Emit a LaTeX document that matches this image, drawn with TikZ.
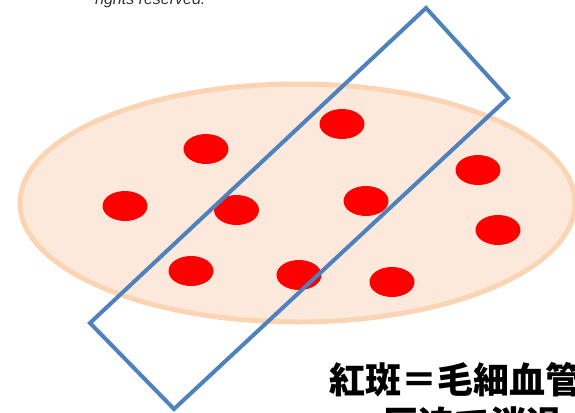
\documentclass[tikz,border=0pt]{standalone}
\usepackage{fontspec}
\setmainfont{Liberation Sans}
\newfontfamily\jpfont{Noto Sans CJK JP}
\usepackage{tikz}

\definecolor{skin}{HTML}{FCE9DB}
\definecolor{skinedge}{HTML}{FBD5B3}
\definecolor{slideblue}{HTML}{4F81BD}

\tikzset{
  patch/.style={fill=skin, draw=skinedge, line width=5pt},
  spot/.style={fill=red},
  slide/.style={draw=slideblue, line width=4pt, line join=miter},
  caption/.style={font=\jpfont\bfseries\fontsize{36}{44}\selectfont, inner sep=0pt, anchor=base west}
}

\begin{document}
\begin{tikzpicture}[x=1pt,y=-1pt]
  \useasboundingbox (0,0) rectangle (575,412);

  \node[font=\itshape\fontsize{16}{18}\selectfont, text=black!80, inner sep=0pt, anchor=base west] (note) at (95,5) {rights reserved.};

  % skin with the red spots
  \draw[patch] (297.5,203) ellipse [x radius=277.5, y radius=119];
  \foreach \x/\y in {206/149, 342/124, 125/206, 236.5/210, 366/201,
                     478/170, 498/230, 191/271, 299/275, 392/282}
    \fill[spot] (\x,\y) ellipse [x radius=22.5, y radius=15];

  % glass plate pressed on the skin
  \draw[slide] (426,8) -- (508,98) -- (174,409) -- (90,323) -- cycle;

  \node[caption] (line1) at (329,393) {紅斑＝毛細血管};
  \node[caption] (line2) at (382,437) {圧迫で消退};
\end{tikzpicture}
\end{document}
